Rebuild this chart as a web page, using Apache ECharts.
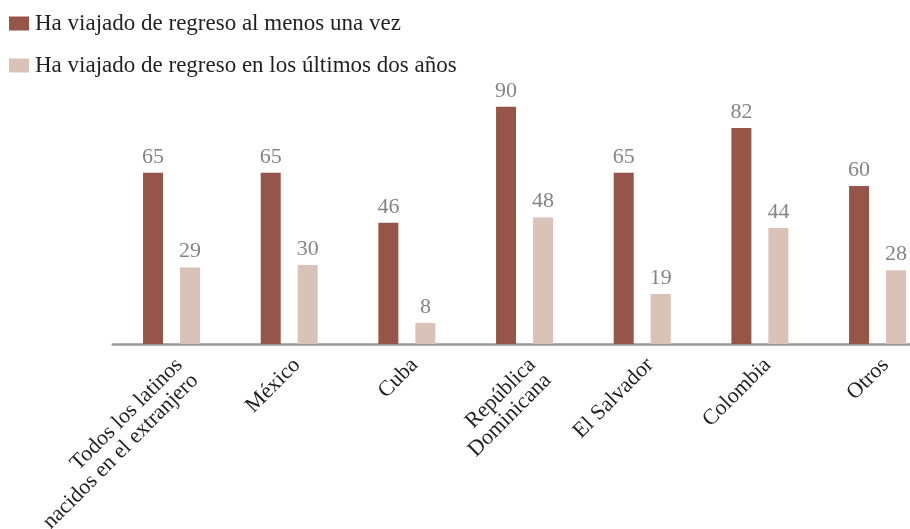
<!DOCTYPE html>
<html>
<head>
<meta charset="utf-8">
<script src="https://cdn.jsdelivr.net/npm/echarts@6/dist/echarts.min.js"></script>
<style>
  html, body { margin: 0; padding: 0; background: #ffffff; overflow: hidden; }
  /* The plot runs slightly past the right edge of the window, so the canvas is wider than the view */
  #chart { width: 940px; height: 529px; }
</style>
</head>
<body>
<div id="chart"></div>
<script>
// Categories (origin groups)
const categories = [
  'Todos los latinos\nnacidos en el extranjero',
  'México',
  'Cuba',
  'República\nDominicana',
  'El Salvador',
  'Colombia',
  'Otros'
];

// Series names
const seriesNames = [
  'Ha viajado de regreso al menos una vez',
  'Ha viajado de regreso en los últimos dos años'
];

// Percent values per category
const everTraveled = [65, 65, 46, 90, 65, 82, 60];
const lastTwoYears = [29, 30, 8, 48, 19, 44, 28];

const serifFont = '"Liberation Serif", "DejaVu Serif", serif';

const chart = echarts.init(document.getElementById('chart'), null, { renderer: 'canvas' });

const valueLabel = {
  show: true,
  position: 'top',
  distance: 5,
  color: '#858585',
  fontFamily: serifFont,
  fontSize: 22
};

chart.setOption({
  animation: false,
  backgroundColor: '#ffffff',
  legend: {
    orient: 'vertical',
    left: 9,
    top: 12,
    padding: 0,
    itemWidth: 20,
    itemHeight: 14,
    itemGap: 19,
    icon: 'rect',
    textStyle: {
      fontFamily: serifFont,
      fontSize: 23,
      lineHeight: 23,
      color: '#231f20',
      padding: [0, 0, 0, 1]
    },
    data: seriesNames
  },
  grid: {
    left: 112.7,
    width: 823.7,
    top: 80.5,
    bottom: 185,
    containLabel: false,
    outerBoundsMode: 'none'
  },
  xAxis: {
    type: 'category',
    data: categories,
    axisLine: { show: true, lineStyle: { color: '#999999', width: 2.5 } },
    axisTick: { show: false },
    axisLabel: {
      interval: 0,
      rotate: 45,
      margin: 10,
      fontFamily: serifFont,
      fontSize: 22,
      lineHeight: 22,
      color: '#231f20',
      align: 'right',
      verticalAlign: 'top'
    }
  },
  yAxis: {
    type: 'value',
    min: 0,
    max: 100,
    show: false,
    splitLine: { show: false }
  },
  series: [
    {
      name: seriesNames[0],
      type: 'bar',
      data: everTraveled,
      barWidth: 20,
      barGap: '85%',
      itemStyle: { color: '#955649' },
      label: valueLabel
    },
    {
      name: seriesNames[1],
      type: 'bar',
      data: lastTwoYears,
      barWidth: 20,
      barGap: '85%',
      itemStyle: { color: '#d9c2b8' },
      label: valueLabel
    }
  ]
});
</script>
</body>
</html>
